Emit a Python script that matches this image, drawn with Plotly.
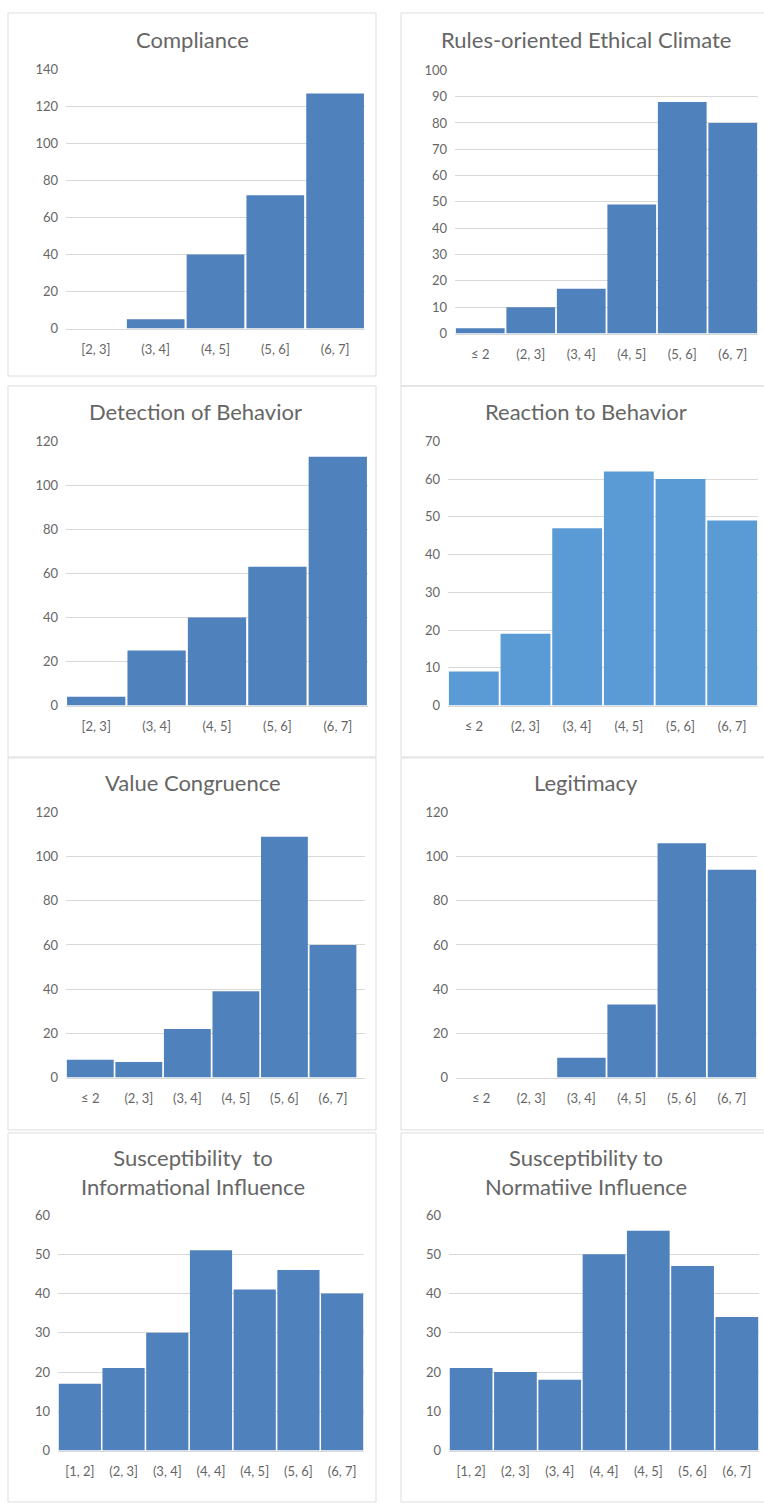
import plotly.graph_objects as go

W, H = 764, 1506

# Bin labels
bins5 = ["[2, 3]", "(3, 4]", "(4, 5]", "(5, 6]", "(6, 7]"]
bins6 = ["≤ 2", "(2, 3]", "(3, 4]", "(4, 5]", "(5, 6]", "(6, 7]"]
bins7 = ["[1, 2]", "(2, 3]", "(3, 4]", "(4, 4]", "(4, 5]", "(5, 6]", "(6, 7]"]

# Frequencies per scale
compliance = [0, 5, 40, 72, 127]
rules_climate = [2, 10, 17, 49, 88, 80]
detection = [4, 25, 40, 63, 113]
reaction = [9, 19, 47, 62, 60, 49]
value_congruence = [8, 7, 22, 39, 109, 60]
legitimacy = [0, 0, 9, 33, 106, 94]
informational = [17, 21, 30, 51, 41, 46, 40]
normative = [21, 20, 18, 50, 56, 47, 34]

titles = [
    "Compliance",
    "Rules-oriented Ethical Climate",
    "Detection of Behavior",
    "Reaction to Behavior",
    "Value Congruence",
    "Legitimacy",
    "Susceptibility  to<br>Informational Influence",
    "Susceptibility to<br>Normatiive Influence",
]

DARK = "#4F81BD"
LIGHT = "#5B9BD5"
TXT = "#666666"
GRID = "#D9D9D9"
FONT = "Lato"

# panel layout in pixels: (data, bins, color, ymax, dtick,
#   plot x0, x1, plot ytop, ybottom, title x, title y, border box, x extra)
panels = [
    (compliance, bins5, DARK, 140, 20, 66, 365, 62, 324, 193, 32, (8, 5, 376, 372), 0),
    (rules_climate, bins6, DARK, 100, 10, 455, 758, 63, 329, 586, 32, (401, 5, 770, 382), 0),
    (detection, bins5, DARK, 120, 20, 66, 368, 438, 705, 195, 408, (8, 382, 376, 757), 0),
    (reaction, bins6, LIGHT, 70, 10, 448, 758, 438, 705, 586, 408, (401, 382, 770, 757), 0),
    (value_congruence, bins6, DARK, 120, 20, 66, 365, 813, 1081, 193, 783, (8, 758, 376, 1134), 0.16),
    (legitimacy, bins6, DARK, 120, 20, 456, 757, 813, 1081, 586, 783, (401, 758, 770, 1134), 0),
    (informational, bins7, DARK, 60, 10, 58, 364, 1220, 1458, 193, 1176, (8, 1137, 376, 1510), 0),
    (normative, bins7, DARK, 60, 10, 449, 759, 1220, 1458, 586, 1176, (401, 1137, 770, 1510), 0),
]

fig = go.Figure()
layout = {}
shapes = []
annotations = []

for i, (vals, cats, color, ymax, dtick, px0, px1, pyt, pyb, tx, ty, box, xextra) in enumerate(panels):
    n = i + 1
    xa = "x" if n == 1 else f"x{n}"
    ya = "y" if n == 1 else f"y{n}"
    fig.add_trace(go.Bar(
        x=list(range(len(cats))), y=vals, xaxis=xa, yaxis=ya,
        marker=dict(color=color, line=dict(width=0)),
        showlegend=False, hoverinfo="y",
    ))
    xkey = "xaxis" if n == 1 else f"xaxis{n}"
    ykey = "yaxis" if n == 1 else f"yaxis{n}"
    layout[xkey] = dict(
        domain=[px0 / W, px1 / W], anchor=ya,
        range=[-0.5, len(cats) - 0.5 + xextra],
        tickmode="array", tickvals=list(range(len(cats))), ticktext=cats,
        showgrid=False, zeroline=False, showline=True, linecolor=GRID, linewidth=1,
        ticks="", ticklabelstandoff=9,
        tickfont=dict(family=FONT, size=13, color=TXT), fixedrange=True,
    )
    layout[ykey] = dict(
        domain=[1 - pyb / H, 1 - pyt / H], anchor=xa,
        range=[0, ymax], dtick=dtick, tick0=0,
        showgrid=True, gridcolor=GRID, gridwidth=1, zeroline=False,
        showline=False, ticks="", ticklabelstandoff=7,
        tickfont=dict(family=FONT, size=13, color=TXT), fixedrange=True,
    )
    annotations.append(dict(
        text=titles[i], x=tx / W, y=1 - ty / H, xref="paper", yref="paper",
        xanchor="center", yanchor="middle", showarrow=False,
        font=dict(family=FONT, size=22, color=TXT),
    ))
    bx0, by0, bx1, by1 = box
    shapes.append(dict(
        type="rect", xref="paper", yref="paper",
        x0=bx0 / W, x1=bx1 / W, y0=1 - by1 / H, y1=1 - by0 / H,
        line=dict(color="#DDDDDD", width=1), fillcolor="rgba(0,0,0,0)", layer="below",
    ))

fig.update_layout(
    width=W, height=H, margin=dict(l=0, r=0, t=0, b=0),
    paper_bgcolor="white", plot_bgcolor="white",
    bargap=0.035, annotations=annotations, shapes=shapes, **layout,
)

fig.write_html("out.html", config={"displayModeBar": False})
